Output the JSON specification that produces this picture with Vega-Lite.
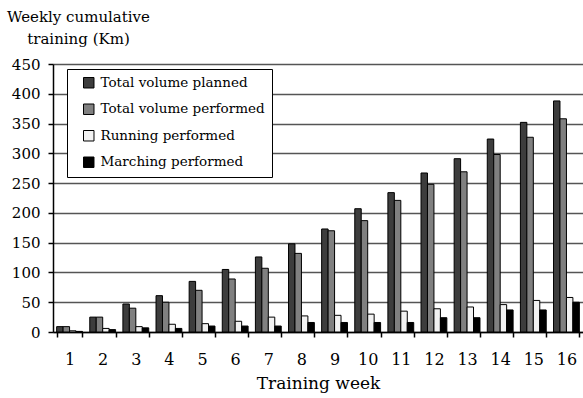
{
  "$schema": "https://vega.github.io/schema/vega-lite/v6.json",
  "width": 530,
  "height": 268,
  "autosize": {"type": "none"},
  "padding": {"left": 53, "top": 64, "right": 0, "bottom": 66},
  "background": "white",
  "config": {
    "font": "DejaVu Serif",
    "view": {"stroke": null}
  },
  "data": {
    "values": [
      {"week": 1, "series": "Total volume planned", "value": 9},
      {"week": 1, "series": "Total volume performed", "value": 9},
      {"week": 1, "series": "Running performed", "value": 2},
      {"week": 1, "series": "Marching performed", "value": 1},
      {"week": 2, "series": "Total volume planned", "value": 25},
      {"week": 2, "series": "Total volume performed", "value": 25},
      {"week": 2, "series": "Running performed", "value": 6},
      {"week": 2, "series": "Marching performed", "value": 4},
      {"week": 3, "series": "Total volume planned", "value": 47},
      {"week": 3, "series": "Total volume performed", "value": 40},
      {"week": 3, "series": "Running performed", "value": 9},
      {"week": 3, "series": "Marching performed", "value": 7},
      {"week": 4, "series": "Total volume planned", "value": 61},
      {"week": 4, "series": "Total volume performed", "value": 50},
      {"week": 4, "series": "Running performed", "value": 13},
      {"week": 4, "series": "Marching performed", "value": 6},
      {"week": 5, "series": "Total volume planned", "value": 85},
      {"week": 5, "series": "Total volume performed", "value": 70},
      {"week": 5, "series": "Running performed", "value": 14},
      {"week": 5, "series": "Marching performed", "value": 10},
      {"week": 6, "series": "Total volume planned", "value": 105},
      {"week": 6, "series": "Total volume performed", "value": 89},
      {"week": 6, "series": "Running performed", "value": 18},
      {"week": 6, "series": "Marching performed", "value": 10},
      {"week": 7, "series": "Total volume planned", "value": 126},
      {"week": 7, "series": "Total volume performed", "value": 107},
      {"week": 7, "series": "Running performed", "value": 25},
      {"week": 7, "series": "Marching performed", "value": 10},
      {"week": 8, "series": "Total volume planned", "value": 148},
      {"week": 8, "series": "Total volume performed", "value": 132},
      {"week": 8, "series": "Running performed", "value": 27},
      {"week": 8, "series": "Marching performed", "value": 16},
      {"week": 9, "series": "Total volume planned", "value": 173},
      {"week": 9, "series": "Total volume performed", "value": 170},
      {"week": 9, "series": "Running performed", "value": 28},
      {"week": 9, "series": "Marching performed", "value": 16},
      {"week": 10, "series": "Total volume planned", "value": 207},
      {"week": 10, "series": "Total volume performed", "value": 187},
      {"week": 10, "series": "Running performed", "value": 30},
      {"week": 10, "series": "Marching performed", "value": 16},
      {"week": 11, "series": "Total volume planned", "value": 234},
      {"week": 11, "series": "Total volume performed", "value": 221},
      {"week": 11, "series": "Running performed", "value": 35},
      {"week": 11, "series": "Marching performed", "value": 16},
      {"week": 12, "series": "Total volume planned", "value": 267},
      {"week": 12, "series": "Total volume performed", "value": 248},
      {"week": 12, "series": "Running performed", "value": 39},
      {"week": 12, "series": "Marching performed", "value": 24},
      {"week": 13, "series": "Total volume planned", "value": 291},
      {"week": 13, "series": "Total volume performed", "value": 269},
      {"week": 13, "series": "Running performed", "value": 42},
      {"week": 13, "series": "Marching performed", "value": 24},
      {"week": 14, "series": "Total volume planned", "value": 324},
      {"week": 14, "series": "Total volume performed", "value": 298},
      {"week": 14, "series": "Running performed", "value": 46},
      {"week": 14, "series": "Marching performed", "value": 37},
      {"week": 15, "series": "Total volume planned", "value": 352},
      {"week": 15, "series": "Total volume performed", "value": 327},
      {"week": 15, "series": "Running performed", "value": 53},
      {"week": 15, "series": "Marching performed", "value": 37},
      {"week": 16, "series": "Total volume planned", "value": 388},
      {"week": 16, "series": "Total volume performed", "value": 358},
      {"week": 16, "series": "Running performed", "value": 58},
      {"week": 16, "series": "Marching performed", "value": 50}
    ]
  },
  "mark": {"type": "bar", "stroke": "black", "strokeWidth": 1},
  "encoding": {
    "x": {
      "field": "week",
      "type": "ordinal",
      "scale": {"paddingInner": 0.22, "paddingOuter": 0.11},
      "axis": {
        "title": "Training week",
        "labelAngle": 0,
        "tickBand": "extent",
        "tickSize": 5,
        "tickColor": "black",
        "tickWidth": 1.5,
        "domainColor": "black",
        "domainWidth": 1.5,
        "labelFontSize": 16,
        "labelPadding": 14,
        "labelColor": "black",
        "titleFontSize": 17,
        "titleFontWeight": "normal",
        "titleColor": "black",
        "titlePadding": 8
      }
    },
    "xOffset": {
      "field": "series",
      "type": "nominal",
      "sort": ["Total volume planned", "Total volume performed", "Running performed", "Marching performed"],
      "scale": {"paddingInner": 0, "paddingOuter": 0}
    },
    "y": {
      "field": "value",
      "type": "quantitative",
      "scale": {"domain": [0, 450], "nice": false},
      "axis": {
        "values": [0, 50, 100, 150, 200, 250, 300, 350, 400, 450],
        "title": ["Weekly cumulative", "training (Km)"],
        "titleAngle": 0,
        "titleX": 25,
        "titleY": -43,
        "titleAlign": "center",
        "titleBaseline": "alphabetic",
        "titleLineHeight": 22,
        "titleFontSize": 15,
        "titleFontWeight": "normal",
        "titleColor": "black",
        "labelFontSize": 15,
        "labelPadding": 8,
        "labelColor": "black",
        "tickSize": 5,
        "tickColor": "black",
        "tickWidth": 1.5,
        "domainColor": "black",
        "domainWidth": 1.5,
        "grid": true,
        "gridColor": "#555555",
        "gridWidth": 1.5
      }
    },
    "color": {
      "field": "series",
      "type": "nominal",
      "scale": {
        "domain": ["Total volume planned", "Total volume performed", "Running performed", "Marching performed"],
        "range": ["#3d3d3d", "#808080", "#f2f2f2", "#000000"]
      },
      "legend": {
        "title": null,
        "orient": "none",
        "legendX": 14,
        "legendY": 5,
        "strokeColor": "black",
        "fillColor": "white",
        "padding": 7,
        "symbolOffset": 8,
        "symbolType": "square",
        "symbolSize": 110,
        "symbolStrokeColor": "black",
        "symbolStrokeWidth": 1,
        "labelFontSize": 13.5,
        "labelLimit": 300,
        "labelColor": "black",
        "labelOffset": 5,
        "rowPadding": 11.5
      }
    }
  }
}
